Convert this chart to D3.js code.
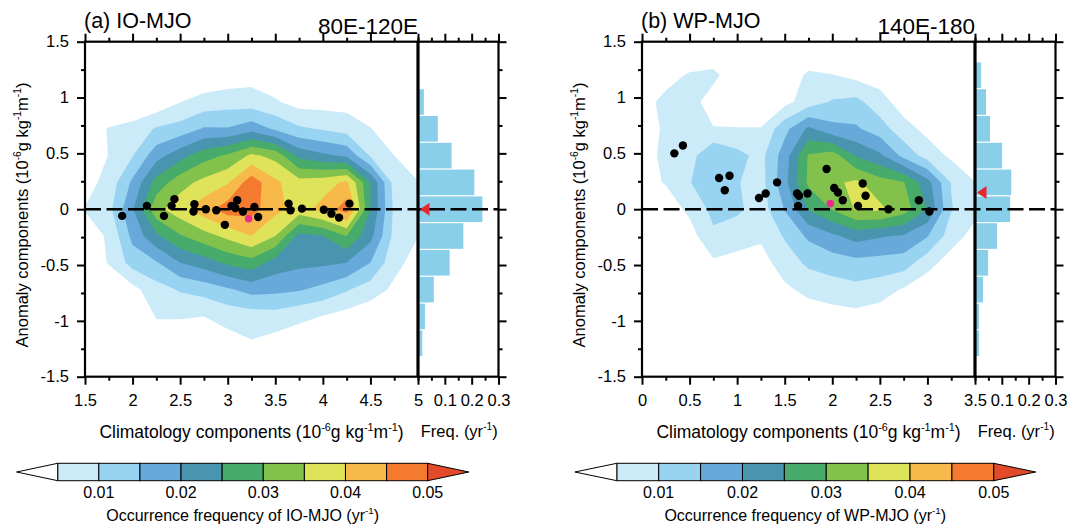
<!DOCTYPE html>
<html lang="en">
<head>
    <meta charset="UTF-8">
    <title>IO-MJO and WP-MJO occurrence frequency</title>
    <style>
        html, body { margin: 0; padding: 0; background: #fff; }
        svg { display: block; font-family: "Liberation Sans", Arial, Helvetica, sans-serif; }
    </style>
    <script src="https://d3js.org/d3.v7.min.js"></script>
</head>
<body>
    <svg width="1069" height="524"></svg>
    <script>
        // frequency field on a (climatology, anomaly) grid, in 10^-3 yr^-1, rows from top to bottom
        var anomRows = [1.44, 1.2, 0.96, 0.72, 0.48, 0.24, 0, -0.24, -0.48, -0.72, -0.96, -1.2, -1.44];
        var ioCols = [1.5, 1.75, 2, 2.25, 2.5, 2.75, 3, 3.25, 3.5, 3.75, 4, 4.25, 4.5, 4.75, 5];
        var wpCols = [0, 0.25, 0.5, 0.75, 1, 1.25, 1.5, 1.75, 2, 2.25, 2.5, 2.75, 3, 3.25, 3.5];

        var ioFreq = [
            [0, 0, 0, 0, 0, 0, 0, 0, 0, 0, 0, 0, 0, 0, 0],
            [0, 0, 0, 0, 0, 1, 2, 3, 1.5, 0, 0, 0, 0, 0, 0],
            [0, 0, 0, 1.5, 4.9, 7, 7.8, 7.5, 5.6, 3, 3, 3, 1.5, 0, 0],
            [2.5, 5.3, 7, 10.5, 12, 15.5, 15.4, 18, 14.2, 10.8, 9.5, 8, 5.2, 2, 0],
            [2.5, 5.1, 9.8, 18, 23, 28, 30.7, 36, 33.4, 23.5, 21, 19, 9.5, 5, 3],
            [3, 6.8, 16, 27, 33, 36.5, 39.5, 48, 41, 37, 38, 41, 25, 8, 5.1],
            [5.2, 8.5, 19.5, 33.5, 38, 43, 47.5, 47, 41.5, 38, 41.5, 47.5, 25, 9, 6],
            [3, 5.5, 16.5, 24, 29.5, 33, 36.3, 40, 35, 23.5, 25, 30, 21.5, 8.5, 5.1],
            [2, 5.3, 12, 14.5, 20, 22.5, 26, 28, 22.8, 21.3, 21, 20, 15, 6.5, 3],
            [0, 1.5, 3.5, 8, 10.5, 12, 14.3, 16.8, 16.3, 15.5, 13.5, 10.5, 7.5, 4, 1.5],
            [0, 0, 0, 5.3, 5.3, 5, 6.8, 7.5, 7.9, 6.3, 4.8, 3, 1.5, 0, 0],
            [0, 0, 0, 2.5, 2.5, 2, 3, 4.6, 3, 1.5, 1, 0, 0, 0, 0],
            [0, 0, 0, 0, 0, 0, 0, 0, 0, 0, 0, 0, 0, 0, 0]
        ];

        var wpFreq = [
            [0, 0, 0, 0, 0, 0, 0, 0, 0, 0, 0, 0, 0, 0, 0],
            [0, 3, 5.6, 6.5, 1, 0, 1.5, 6, 5.2, 3.5, 2.5, 0, 0, 0, 0],
            [3, 6.5, 7.5, 2, 0, 0, 3.5, 7.5, 10.5, 11.4, 7.2, 2.5, 0, 0, 0],
            [3.5, 5.5, 7.5, 5.3, 5.3, 5.3, 13.5, 21, 16.5, 15.7, 12.3, 7, 3.5, 0, 0],
            [2.5, 6.5, 8, 14.5, 11.5, 8.5, 17.5, 30.5, 32.5, 24.5, 21, 13.5, 7.8, 4, 2],
            [3.5, 5.3, 9.8, 13, 10.3, 8, 18.5, 31, 34, 36, 32.2, 30.3, 22, 9.8, 5.1],
            [0, 2.5, 6, 11.5, 11, 7.5, 15.3, 25.5, 30.3, 35.5, 36, 32.5, 24.8, 10.3, 6.5],
            [0, 0, 3, 9, 7, 5.8, 10.5, 16, 19, 22, 20.5, 19.5, 15.3, 7.5, 3],
            [0, 0, 1, 4.2, 3.5, 3, 7.5, 11, 12.5, 13.5, 13, 12.5, 7, 2.5, 0],
            [0, 0, 0, 0, 0, 0, 4, 6.5, 7.5, 8.5, 7.3, 4.5, 1.5, 0, 0],
            [0, 0, 0, 0, 0, 0, 0, 2, 3, 3.5, 2.5, 0, 0, 0, 0],
            [0, 0, 0, 0, 0, 0, 0, 0, 0, 0, 0, 0, 0, 0, 0],
            [0, 0, 0, 0, 0, 0, 0, 0, 0, 0, 0, 0, 0, 0, 0]
        ];

        // contour levels (10^-3 yr^-1) and their fill colours
        var levels = [5, 10, 15, 20, 25, 30, 35, 40, 45, 50];
        var levelColors = ["#cbebf9", "#98d3f1", "#67aad9", "#4995b0", "#47ab6c",
                           "#82c24c", "#dee35a", "#f7ba4a", "#f47a30", "#e34a2a"];
        var barLabelLevels = [10, 20, 30, 40, 50];

        // histogram of the anomaly component (yr^-1), bins centred on these values
        var histBins = [1.2, 0.96, 0.72, 0.48, 0.24, 0, -0.24, -0.48, -0.72, -0.96, -1.2];
        var binWidth = 0.24;
        var ioHist = [0, 0.022, 0.074, 0.125, 0.21, 0.24, 0.169, 0.118, 0.059, 0.026, 0.016];
        var wpHist = [0.0225, 0.041, 0.056, 0.101, 0.135, 0.131, 0.082, 0.049, 0.03, 0.015, 0.015];
        var ioMean = 0, wpMean = 0.15;

        // individual events
        var ioClim = [1.89, 2.15, 2.33, 2.41, 2.44, 2.65, 2.64, 2.77, 2.88, 2.97, 3.04, 3.1, 3.08, 3.16, 3.28, 3.32, 3.64, 3.66, 3.78, 4.01, 4.09, 4.17, 4.28];
        var ioAnom = [-0.06, 0.03, -0.06, 0.03, 0.09, 0.045, -0.02, 0, -0.01, -0.14, 0.03, 0.08, 0.01, -0.02, 0.02, -0.07, 0.05, -0.01, 0.005, -0.005, -0.04, -0.075, 0.05];
        var ioComposite = [3.22, -0.085];
        var wpClim = [0.34, 0.43, 0.81, 0.92, 0.87, 1.23, 1.3, 1.42, 1.63, 1.65, 1.64, 1.74, 1.94, 2.02, 2.06, 2.11, 2.27, 2.32, 2.35, 2.59, 2.91, 3.02];
        var wpAnom = [0.5, 0.57, 0.28, 0.3, 0.17, 0.1, 0.14, 0.24, 0.14, 0.12, 0.03, 0.14, 0.36, 0.19, 0.15, 0.08, 0.03, 0.23, 0.12, 0, 0.08, -0.02];
        var wpComposite = [1.98, 0.05];

        // ticks
        var ioXTicks = [1.5, 2, 2.5, 3, 3.5, 4, 4.5, 5];
        var ioXMinor = [1.75, 2.25, 2.75, 3.25, 3.75, 4.25, 4.75];
        var wpXTicks = [0, 0.5, 1, 1.5, 2, 2.5, 3, 3.5];
        var wpXMinor = [0.25, 0.75, 1.25, 1.75, 2.25, 2.75, 3.25];
        var yTicks = [-1.5, -1, -0.5, 0, 0.5, 1, 1.5];
        var yMinor = [-1.25, -0.75, -0.25, 0.25, 0.75, 1.25];
        var freqTicks = [0.1, 0.2, 0.3];
        var freqMinor = [0, 0.05, 0.15, 0.25];

        var svg = d3.select("svg");
        var plotTop = 41.7, plotBottom = 376.7, plotW = 333, histW = 80.5;

        function richText(sel, parts, size) {
            // parts: [text, isSuperscript]
            var shift = 0;
            parts.forEach(function(p) {
                var target = p[1] ? -size * 0.42 : 0;
                sel.append("tspan")
                    .attr("dy", target - shift)
                    .attr("font-size", p[1] ? size * 0.62 : size)
                    .text(p[0]);
                shift = target;
            });
        }

        function addAxis(g, axis, transform) {
            var a = g.append("g").attr("transform", transform).call(axis);
            a.select(".domain").remove();
            a.attr("font-size", 16.5).attr("font-family", null);
            a.selectAll("line").attr("stroke", "#000").attr("stroke-width", 2);
            a.selectAll("text").attr("fill", "#000");
            return a;
        }

        function drawPanel(p) {
            var x = d3.scaleLinear().domain(p.xDomain).range([p.left, p.left + plotW]);
            var y = d3.scaleLinear().domain([-1.5, 1.5]).range([plotBottom, plotTop]);
            var f = d3.scaleLinear().domain([0, 0.3]).range([p.left + plotW, p.left + plotW + histW]);
            var g = svg.append("g");

            // filled contours of the frequency field
            var nx = p.cols.length, ny = anomRows.length;
            var dx = p.cols[1] - p.cols[0], dy = anomRows[1] - anomRows[0];
            var proj = d3.geoTransform({
                point: function(gx, gy) {
                    this.stream.point(x(p.cols[0] + (gx - 0.5) * dx), y(anomRows[0] + (gy - 0.5) * dy));
                }
            });
            var path = d3.geoPath(proj);
            var bands = d3.contours().size([nx, ny]).thresholds(levels)(p.freq.flat());

            g.append("clipPath").attr("id", p.id + "-clip")
                .append("rect")
                .attr("x", p.left).attr("y", plotTop)
                .attr("width", plotW).attr("height", plotBottom - plotTop);

            g.append("g")
                .attr("clip-path", "url(#" + p.id + "-clip)")
                .selectAll("path")
                .data(bands)
                .enter().append("path")
                .attr("d", path)
                .attr("fill", function(d, i) { return levelColors[i]; });

            // histogram
            g.append("g").selectAll("rect")
                .data(p.hist)
                .enter().append("rect")
                .attr("x", f(0))
                .attr("width", function(d) { return f(d) - f(0); })
                .attr("y", function(d, i) { return y(histBins[i] + binWidth / 2) + 0.6; })
                .attr("height", function(d, i) { return y(histBins[i] - binWidth / 2) - y(histBins[i] + binWidth / 2) - 1.2; })
                .attr("fill", "#89cfea");

            // zero line
            g.append("line")
                .attr("x1", x(p.xDomain[0])).attr("x2", f(0.3))
                .attr("y1", y(0)).attr("y2", y(0))
                .attr("stroke", "#000").attr("stroke-width", 2.6)
                .attr("stroke-dasharray", "16,5.5");

            // events
            g.append("g").selectAll("circle")
                .data(p.clim)
                .enter().append("circle")
                .attr("cx", function(d) { return x(d); })
                .attr("cy", function(d, i) { return y(p.anom[i]); })
                .attr("r", 4.2)
                .attr("fill", "#000");

            g.append("circle")
                .attr("cx", x(p.composite[0])).attr("cy", y(p.composite[1]))
                .attr("r", 3.8).attr("fill", "#ec2d8f");

            // mean anomaly marker
            var mx = f(0), my = y(p.mean);
            g.append("path")
                .attr("d", "M" + (mx + 2) + "," + my + "L" + (mx + 11.5) + "," + (my - 6.5) + "L" + (mx + 11.5) + "," + (my + 6.5) + "Z")
                .attr("fill", "#e8262f");

            // frames
            g.append("rect")
                .attr("x", p.left).attr("y", plotTop)
                .attr("width", plotW).attr("height", plotBottom - plotTop)
                .attr("fill", "none").attr("stroke", "#000").attr("stroke-width", 2.2);
            g.append("rect")
                .attr("x", p.left + plotW).attr("y", plotTop)
                .attr("width", histW).attr("height", plotBottom - plotTop)
                .attr("fill", "none").attr("stroke", "#000").attr("stroke-width", 2.2);
            g.append("line")
                .attr("x1", p.left + plotW).attr("x2", p.left + plotW)
                .attr("y1", plotTop).attr("y2", plotBottom)
                .attr("stroke", "#000").attr("stroke-width", 3);

            // axes
            var fmt = function(d) { return String(d); };
            addAxis(g, d3.axisBottom(x).tickValues(p.xTicks).tickSize(8).tickPadding(10).tickFormat(fmt), "translate(0," + plotBottom + ")");
            addAxis(g, d3.axisBottom(x).tickValues(p.xMinor).tickSize(4).tickFormat(""), "translate(0," + plotBottom + ")");
            addAxis(g, d3.axisTop(x).tickValues(p.xTicks).tickSize(8).tickFormat(""), "translate(0," + plotTop + ")");
            addAxis(g, d3.axisTop(x).tickValues(p.xMinor).tickSize(4).tickFormat(""), "translate(0," + plotTop + ")");
            addAxis(g, d3.axisLeft(y).tickValues(yTicks).tickSize(8).tickPadding(8).tickFormat(fmt), "translate(" + p.left + ",0)");
            addAxis(g, d3.axisLeft(y).tickValues(yMinor).tickSize(4).tickFormat(""), "translate(" + p.left + ",0)");

            addAxis(g, d3.axisBottom(f).tickValues(freqTicks).tickSize(8).tickPadding(10).tickFormat(fmt), "translate(0," + plotBottom + ")");
            addAxis(g, d3.axisBottom(f).tickValues(freqMinor).tickSize(4).tickFormat(""), "translate(0," + plotBottom + ")");
            addAxis(g, d3.axisTop(f).tickValues(freqTicks).tickSize(8).tickFormat(""), "translate(0," + plotTop + ")");
            addAxis(g, d3.axisTop(f).tickValues(freqMinor).tickSize(4).tickFormat(""), "translate(0," + plotTop + ")");
            addAxis(g, d3.axisRight(y).tickValues(yTicks).tickSize(8).tickFormat(""), "translate(" + f(0.3) + ",0)");
            addAxis(g, d3.axisRight(y).tickValues(yMinor).tickSize(4).tickFormat(""), "translate(" + f(0.3) + ",0)");

            // titles
            g.append("text").attr("x", p.left - 1).attr("y", 28)
                .attr("font-size", 21.5).text(p.title);
            g.append("text").attr("x", p.left + plotW).attr("y", 34)
                .attr("font-size", 22.5).attr("text-anchor", "end").text(p.region);

            var unit = [["-6", 1], ["g kg", 0], ["-1", 1], ["m", 0], ["-1", 1], [")", 0]];
            var yt = g.append("text")
                .attr("transform", "translate(" + (p.left - 57) + ",215) rotate(-90)")
                .attr("text-anchor", "middle");
            richText(yt, [["Anomaly components (10", 0]].concat(unit), 16.5);

            var xt = g.append("text")
                .attr("x", (x.range()[0] + x.range()[1]) / 2).attr("y", 438)
                .attr("text-anchor", "middle");
            richText(xt, [["Climatology components (10", 0]].concat(unit), 17.5);

            var ft = g.append("text")
                .attr("x", (f.range()[0] + f.range()[1]) / 2 + 1).attr("y", 437)
                .attr("text-anchor", "middle");
            richText(ft, [["Freq. (yr", 0], ["-1", 1], [")", 0]], 16.5);

            // colour bar
            var cb = d3.scaleLinear().domain([levels[0], levels[levels.length - 1]])
                .range([p.barCenter - p.barWidth / 2, p.barCenter + p.barWidth / 2]);
            var bw = cb(levels[1]) - cb(levels[0]);
            var by = 463.3, bh = 17.4;
            var cg = g.append("g");
            cg.selectAll("rect")
                .data(levels.slice(0, levels.length - 1))
                .enter().append("rect")
                .attr("x", function(d) { return cb(d); })
                .attr("y", by).attr("width", bw).attr("height", bh)
                .attr("fill", function(d, i) { return levelColors[i]; })
                .attr("stroke", "#000").attr("stroke-width", 1);
            var l0 = cb(levels[0]), l1 = cb(levels[levels.length - 1]);
            cg.append("path")
                .attr("d", "M" + l0 + "," + by + "L" + (l0 - bw) + "," + (by + bh / 2) + "L" + l0 + "," + (by + bh) + "Z")
                .attr("fill", "#fff").attr("stroke", "#000").attr("stroke-width", 1);
            cg.append("path")
                .attr("d", "M" + l1 + "," + by + "L" + (l1 + bw) + "," + (by + bh / 2) + "L" + l1 + "," + (by + bh) + "Z")
                .attr("fill", levelColors[levelColors.length - 1]).attr("stroke", "#000").attr("stroke-width", 1);
            cg.selectAll(".cbl")
                .data(barLabelLevels)
                .enter().append("text")
                .attr("x", function(d) { return cb(d); })
                .attr("y", 498)
                .attr("text-anchor", "middle")
                .attr("font-size", 16)
                .text(function(d) { return (d / 1000).toFixed(2); });
            var ct = cg.append("text")
                .attr("x", p.barCenter).attr("y", 520.5)
                .attr("text-anchor", "middle");
            richText(ct, [["Occurrence frequency of " + p.name + " (yr", 0], ["-1", 1], [")", 0]], 16);
        }

        drawPanel({
            id: "io", name: "IO-MJO", title: "(a) IO-MJO", region: "80E-120E",
            left: 85, xDomain: [1.5, 5], cols: ioCols, freq: ioFreq,
            xTicks: ioXTicks, xMinor: ioXMinor,
            hist: ioHist, mean: ioMean,
            clim: ioClim, anom: ioAnom, composite: ioComposite,
            barCenter: 242.7, barWidth: 370
        });

        drawPanel({
            id: "wp", name: "WP-MJO", title: "(b) WP-MJO", region: "140E-180",
            left: 642, xDomain: [0, 3.5], cols: wpCols, freq: wpFreq,
            xTicks: wpXTicks, xMinor: wpXMinor,
            hist: wpHist, mean: wpMean,
            clim: wpClim, anom: wpAnom, composite: wpComposite,
            barCenter: 805.3, barWidth: 377
        });
    </script>
</body>
</html>
